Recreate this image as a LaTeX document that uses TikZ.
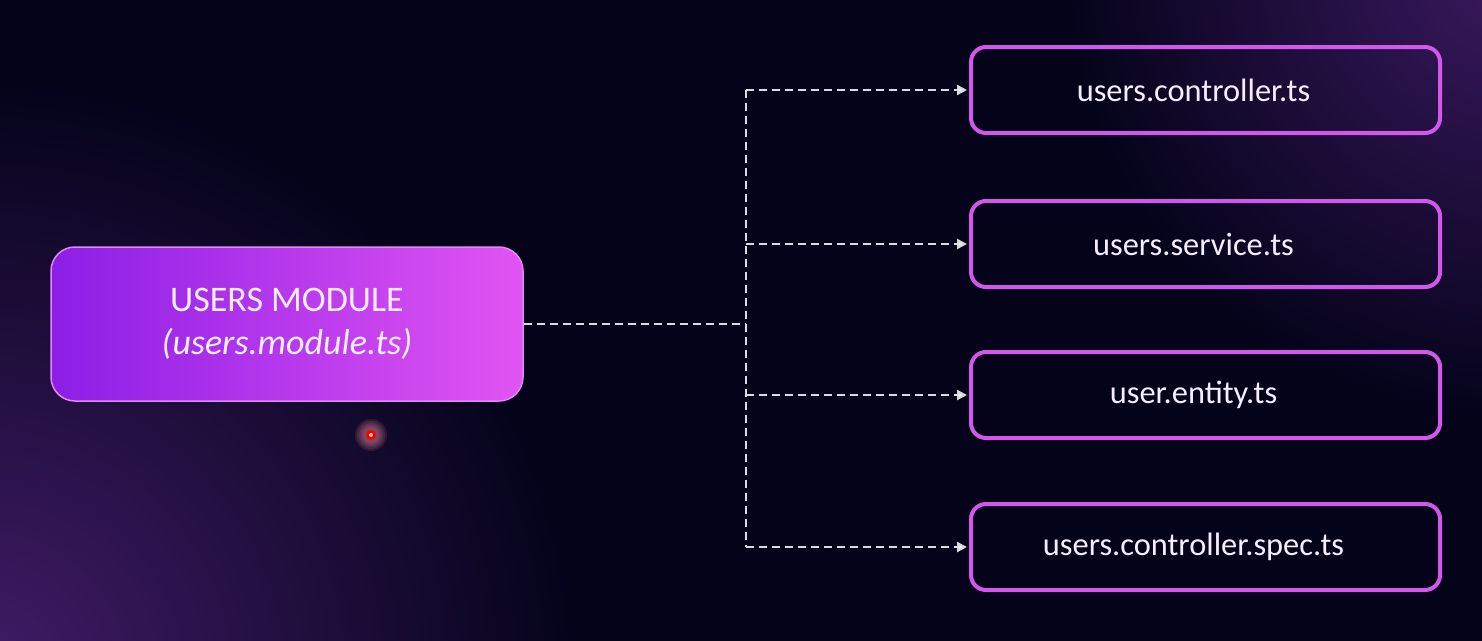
\documentclass[tikz,border=0pt]{standalone}
\usepackage{fontspec}
\setmainfont{Carlito}
\usetikzlibrary{arrows.meta,calc}
\definecolor{bg}{HTML}{04031A}
\definecolor{glow}{HTML}{421C68}
\definecolor{violetL}{HTML}{8C1EE6}
\definecolor{pinkR}{HTML}{E154F2}
\definecolor{boxedge}{HTML}{D457EC}
\definecolor{dashc}{HTML}{DADAE4}
\definecolor{txt}{HTML}{F6EEFF}
\definecolor{halo}{HTML}{F08A9A}
\tikzset{
  filebox/.style={draw=boxedge, line width=4pt, rounded corners=15pt,
    minimum width=469pt, minimum height=86pt, text=txt, font=\fontsize{32.4}{36}\selectfont},
  modbox/.style={draw=boxedge!70!white, line width=1.5pt, rounded corners=24pt,
    left color=violetL, right color=pinkR, minimum width=472pt, minimum height=154pt,
    text=txt, align=center, font=\fontsize{36}{43}\selectfont},
  conn/.style={draw=dashc, line width=2.4pt, dash pattern=on 8pt off 5pt},
  arr/.style={conn, -{Triangle[length=10pt,width=10pt,fill=white]}},
}
\newcommand{\shiftl}{\hspace*{-24pt}}
\begin{document}
\begin{tikzpicture}[x=1pt,y=-1pt]
  \useasboundingbox (0,0) rectangle (1482,640);
  % background
  \begin{scope}
    \clip (0,0) rectangle (1482,640);
    \fill[bg] (-5,-5) rectangle (1487,645);
    \shade[inner color=glow, outer color=bg] (-20,680) circle (600pt);
    \shade[inner color=glow!90!bg, outer color=bg] (1520,-40) circle (460pt);
  \end{scope}
  \foreach \r in {16,14,12,10,8} {
    \fill[halo, opacity=0.13] (371,435) circle (\r pt);
  }
  \node[circle, fill=red, inner sep=0pt, minimum size=10pt] (dot) at (371,435) {};
  \node[circle, fill=red!25!white, inner sep=0pt, minimum size=4pt] (dotc) at (371,435) {};

  % nodes
  \node[modbox] (M) at (287,324) {USERS MODULE\\\textit{(users.module.ts)}};
  \node[filebox] (A) at (1205.5,90) {\shiftl users.controller.ts};
  \node[filebox] (B) at (1205.5,244) {\shiftl users.service.ts};
  \node[filebox] (C) at (1205.5,395) {\shiftl user.entity.ts};
  \node[filebox] (D) at (1205.5,547) {\shiftl users.controller.spec.ts};

  % connectors
  \coordinate (J) at (746,324);
  \coordinate (JA) at (A.west -| J);
  \coordinate (JB) at (B.west -| J);
  \coordinate (JC) at (C.west -| J);
  \coordinate (JD) at (D.west -| J);
  \draw[conn] (M.east) -- (J);
  \draw[conn] (JA) -- (JD);
  \draw[arr] (JA) -- ($(A.west)+(-2,0)$);
  \draw[arr] (JB) -- ($(B.west)+(-2,0)$);
  \draw[arr] (JC) -- ($(C.west)+(-2,0)$);
  \draw[arr] (JD) -- ($(D.west)+(-2,0)$);
\end{tikzpicture}
\end{document}
